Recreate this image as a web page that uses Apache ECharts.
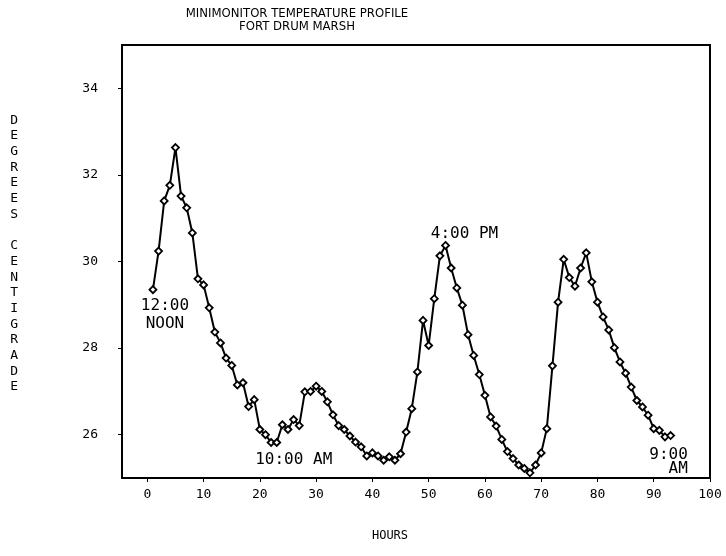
<!DOCTYPE html>
<html>
<head>
<meta charset="utf-8">
<script src="https://cdn.jsdelivr.net/npm/echarts@6/dist/echarts.min.js"></script>
<style>
  html, body { margin: 0; padding: 0; background: #fff; }
  #container { width: 726px; height: 556px; }
</style>
</head>
<body>
<div id="container"></div>
<script>
// hours since start, temperature readings (deg C)
var hours = [];
for (var h = 1; h <= 93; h++) hours.push(h);
var temps = [
  29.35, 30.24, 31.40, 31.76, 32.63, 31.51, 31.24, 30.66, 29.60, 29.46,
  28.93, 28.37, 28.12, 27.77, 27.60, 27.15, 27.20, 26.65, 26.81, 26.12,
  26.00, 25.82, 25.82, 26.23, 26.12, 26.35, 26.21, 26.99, 27.00, 27.12,
  27.00, 26.76, 26.46, 26.21, 26.12, 25.97, 25.83, 25.72, 25.51, 25.58,
  25.51, 25.41, 25.49, 25.41, 25.56, 26.06, 26.60, 27.45, 28.64, 28.06,
  29.14, 30.13, 30.37, 29.85, 29.39, 28.99, 28.31, 27.83, 27.39, 26.91,
  26.41, 26.20, 25.89, 25.61, 25.45, 25.30, 25.22, 25.12, 25.30, 25.58,
  26.14, 27.59, 29.06, 30.05, 29.63, 29.43, 29.85, 30.20, 29.53, 29.06,
  28.72, 28.42, 28.01, 27.68, 27.42, 27.10, 26.79, 26.64, 26.45, 26.14,
  26.10, 25.95, 25.98
];
var xTicks = [0, 10, 20, 30, 40, 50, 60, 70, 80, 90, 100];
var yTicks = [26, 28, 30, 32, 34];

// time notes: index into the series, text
var noteIdx = [0, 22, 52, 92];
var noteText = ['12:00\nNOON', '10:00 AM', '4:00 PM', '9:00\n  AM'];
var noteOffset = [[12, 25], [17, 17], [19, -12], [-2, 26]];
var noteLine = [18, 18, 18, 14];

var mono = 'DejaVu Sans Mono';
// stacked letters, trailing blank line lifts the block a little
var yName = 'DEGREES CENTIGRADE'.split('').join('\n') + '\n';

var dom = document.getElementById('container');
var myChart = echarts.init(dom);
var option = {
    backgroundColor: '#fff',
    animation: false,
    title: {
        text: 'MINIMONITOR TEMPERATURE PROFILE\nFORT DRUM MARSH',
        left: 292,
        top: 2,
        textAlign: 'center',
        textStyle: {
            fontFamily: 'DejaVu Sans Condensed',
            fontSize: 13,
            fontWeight: 'normal',
            color: '#000',
            lineHeight: 13,
            align: 'center'
        }
    },
    grid: {
        left: 122,
        right: 16,
        top: 45,
        bottom: 78,
        show: true,
        borderColor: '#000',
        borderWidth: 2
    },
    xAxis: {
        type: 'value',
        min: -4.5,
        max: 100,
        name: 'HOURS',
        nameLocation: 'middle',
        nameGap: 52,
        nameTextStyle: { fontFamily: mono, fontSize: 12, color: '#000', padding: [0, 52, 0, 0] },
        axisLine: { onZero: false, lineStyle: { color: '#000', width: 2 } },
        axisTick: { customValues: xTicks, length: 4, lineStyle: { color: '#000' } },
        axisLabel: {
            customValues: xTicks,
            fontFamily: mono,
            fontSize: 13,
            color: '#000',
            margin: 10
        },
        splitLine: { show: false }
    },
    yAxis: {
        type: 'value',
        min: 25,
        max: 35,
        name: yName,
        nameLocation: 'middle',
        nameRotate: 0,
        nameGap: 104,
        nameTextStyle: {
            fontFamily: mono,
            fontSize: 13,
            lineHeight: 15.7,
            color: '#000'
        },
        axisLine: { onZero: false, lineStyle: { color: '#000', width: 2 } },
        axisTick: { customValues: yTicks, length: 4, lineStyle: { color: '#000' } },
        axisLabel: {
            customValues: yTicks,
            fontFamily: mono,
            fontSize: 13,
            color: '#000',
            margin: 24
        },
        splitLine: { show: false }
    },
    series: [{
        type: 'line',
        data: hours.map(function (h, i) { return [h, temps[i]]; }),
        symbol: 'diamond',
        symbolSize: 7,
        showAllSymbol: true,
        lineStyle: { color: '#000', width: 2 },
        itemStyle: { color: '#fff', borderColor: '#000', borderWidth: 1.8 },
        markPoint: {
            symbol: 'circle',
            symbolSize: 1,
            itemStyle: { color: 'rgba(0,0,0,0)' },
            data: noteIdx.map(function (k, i) {
                return {
                    coord: [hours[k], temps[k]],
                    label: {
                        show: true,
                        position: 'inside',
                        formatter: noteText[i],
                        offset: noteOffset[i],
                        fontFamily: mono,
                        fontSize: 16,
                        lineHeight: noteLine[i],
                        color: '#000'
                    }
                };
            })
        }
    }]
};
if (option && typeof option === 'object') {
    myChart.setOption(option, true);
}
</script>
</body>
</html>
